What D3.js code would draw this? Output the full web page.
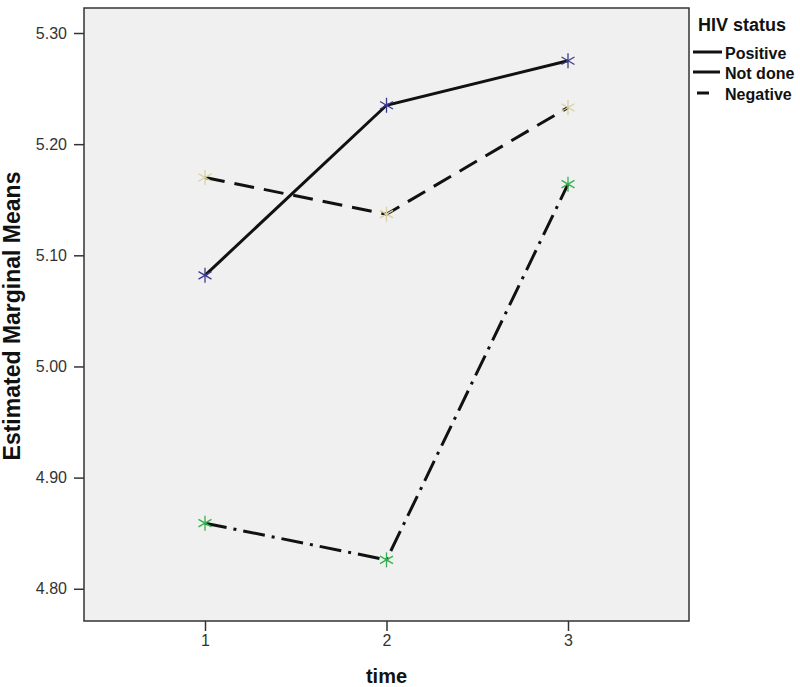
<!DOCTYPE html>
<html>
<head>
<meta charset="utf-8">
<script src="https://cdn.jsdelivr.net/npm/d3@7"></script>
<style>
  body { margin: 0; background: #fff; }
  text { font-family: "Liberation Sans", Arial, sans-serif; }
  .tick text { font-size: 16px; }
</style>
</head>
<body>
<div id="chart"></div>
<script>
// data
var times = [1, 2, 3];
var groups = ["Positive", "Not done", "Negative"];
var positive = [5.082, 5.235, 5.275];
var notDone = [4.859, 4.826, 5.164];
var negative = [5.170, 5.137, 5.233];
var yTicks = [4.80, 4.90, 5.00, 5.10, 5.20, 5.30];

var svgWidth = 800, svgHeight = 687;
var margin = { top: 8, right: 111, bottom: 66, left: 84 };
var width = svgWidth - margin.left - margin.right;
var height = svgHeight - margin.top - margin.bottom;

var svg = d3.select("#chart").append("svg")
  .attr("width", svgWidth)
  .attr("height", svgHeight);

var chartGroup = svg.append("g")
  .attr("transform", `translate(${margin.left}, ${margin.top})`);

var xScale = d3.scaleLinear().domain([1 / 3, 11 / 3]).range([0, width]);
var yScale = d3.scaleLinear().domain([4.771, 5.3225]).range([height, 0]);

// plot background
chartGroup.append("rect")
  .attr("width", width)
  .attr("height", height)
  .attr("fill", "#f0f0f0")
  .attr("stroke", "#333")
  .attr("stroke-width", 1.5);

// axes
var leftAxis = d3.axisLeft(yScale).tickValues(yTicks)
  .tickFormat(d3.format(".2f")).tickSize(10).tickPadding(7);
var bottomAxis = d3.axisBottom(xScale).tickValues(times)
  .tickFormat(d3.format("d")).tickSize(10).tickPadding(4);

var yAxis = chartGroup.append("g").call(leftAxis);
var xAxis = chartGroup.append("g")
  .attr("transform", `translate(0, ${height})`)
  .call(bottomAxis);
[yAxis, xAxis].forEach(function (ax) {
  ax.attr("font-size", 16).attr("font-family", "Liberation Sans, Arial, sans-serif");
  ax.select(".domain").remove();
  ax.selectAll("line").attr("stroke", "#333").attr("stroke-width", 1.5);
  ax.selectAll("text").attr("fill", "#333");
});

// axis titles
svg.append("text")
  .attr("transform", "translate(20, 316) rotate(-90)")
  .attr("text-anchor", "middle")
  .style("font-size", "23px")
  .style("font-weight", "bold")
  .attr("fill", "#111")
  .text("Estimated Marginal Means");

svg.append("text")
  .attr("x", margin.left + xScale(2))
  .attr("y", 683)
  .attr("text-anchor", "middle")
  .style("font-size", "20px")
  .style("font-weight", "bold")
  .attr("fill", "#111")
  .text("time");

var series = [
  { name: "Positive", values: positive, dash: null, color: "#3c3c8c" },
  { name: "Not done", values: notDone, dash: "22,7,3,7", color: "#35b04f" },
  { name: "Negative", values: negative, dash: "20,10", color: "#d8d0a4" }
];

var line = d3.line()
  .x(function (d, i) { return xScale(times[i]); })
  .y(function (d) { return yScale(d); });

series.forEach(function (s) {
  chartGroup.append("path")
    .datum(s.values)
    .attr("d", line)
    .attr("fill", "none")
    .attr("stroke", "#111")
    .attr("stroke-width", 3)
    .attr("stroke-dasharray", s.dash);
});

// asterisk markers
function star(g, cx, cy, color) {
  for (var k = 0; k < 3; k++) {
    var a = Math.PI / 2 + k * Math.PI / 3;
    var r = 7.5;
    g.append("line")
      .attr("x1", cx + r * Math.cos(a)).attr("y1", cy + r * Math.sin(a))
      .attr("x2", cx - r * Math.cos(a)).attr("y2", cy - r * Math.sin(a))
      .attr("stroke", color)
      .attr("stroke-width", 1.3);
  }
}
series.forEach(function (s) {
  s.values.forEach(function (v, i) {
    star(chartGroup, xScale(times[i]), yScale(v), s.color);
  });
});

// legend
var legend = svg.append("g").attr("transform", "translate(697, 0)");
legend.append("text")
  .attr("x", 1).attr("y", 31)
  .style("font-size", "18px")
  .style("font-weight", "bold")
  .attr("fill", "#111")
  .text("HIV status");

var legendX1 = [-4, -4, 0];
var legendX2 = [25, 23, 12];
var legendY = [52, 72, 93];
series.forEach(function (s, i) {
  legend.append("line")
    .attr("x1", legendX1[i]).attr("x2", legendX2[i])
    .attr("y1", legendY[i]).attr("y2", legendY[i])
    .attr("stroke", "#111")
    .attr("stroke-width", 3);
  legend.append("text")
    .attr("x", 28).attr("y", legendY[i] + 7)
    .style("font-size", "16px")
    .style("font-weight", "bold")
    .attr("fill", "#111")
    .text(s.name);
});
</script>
</body>
</html>
